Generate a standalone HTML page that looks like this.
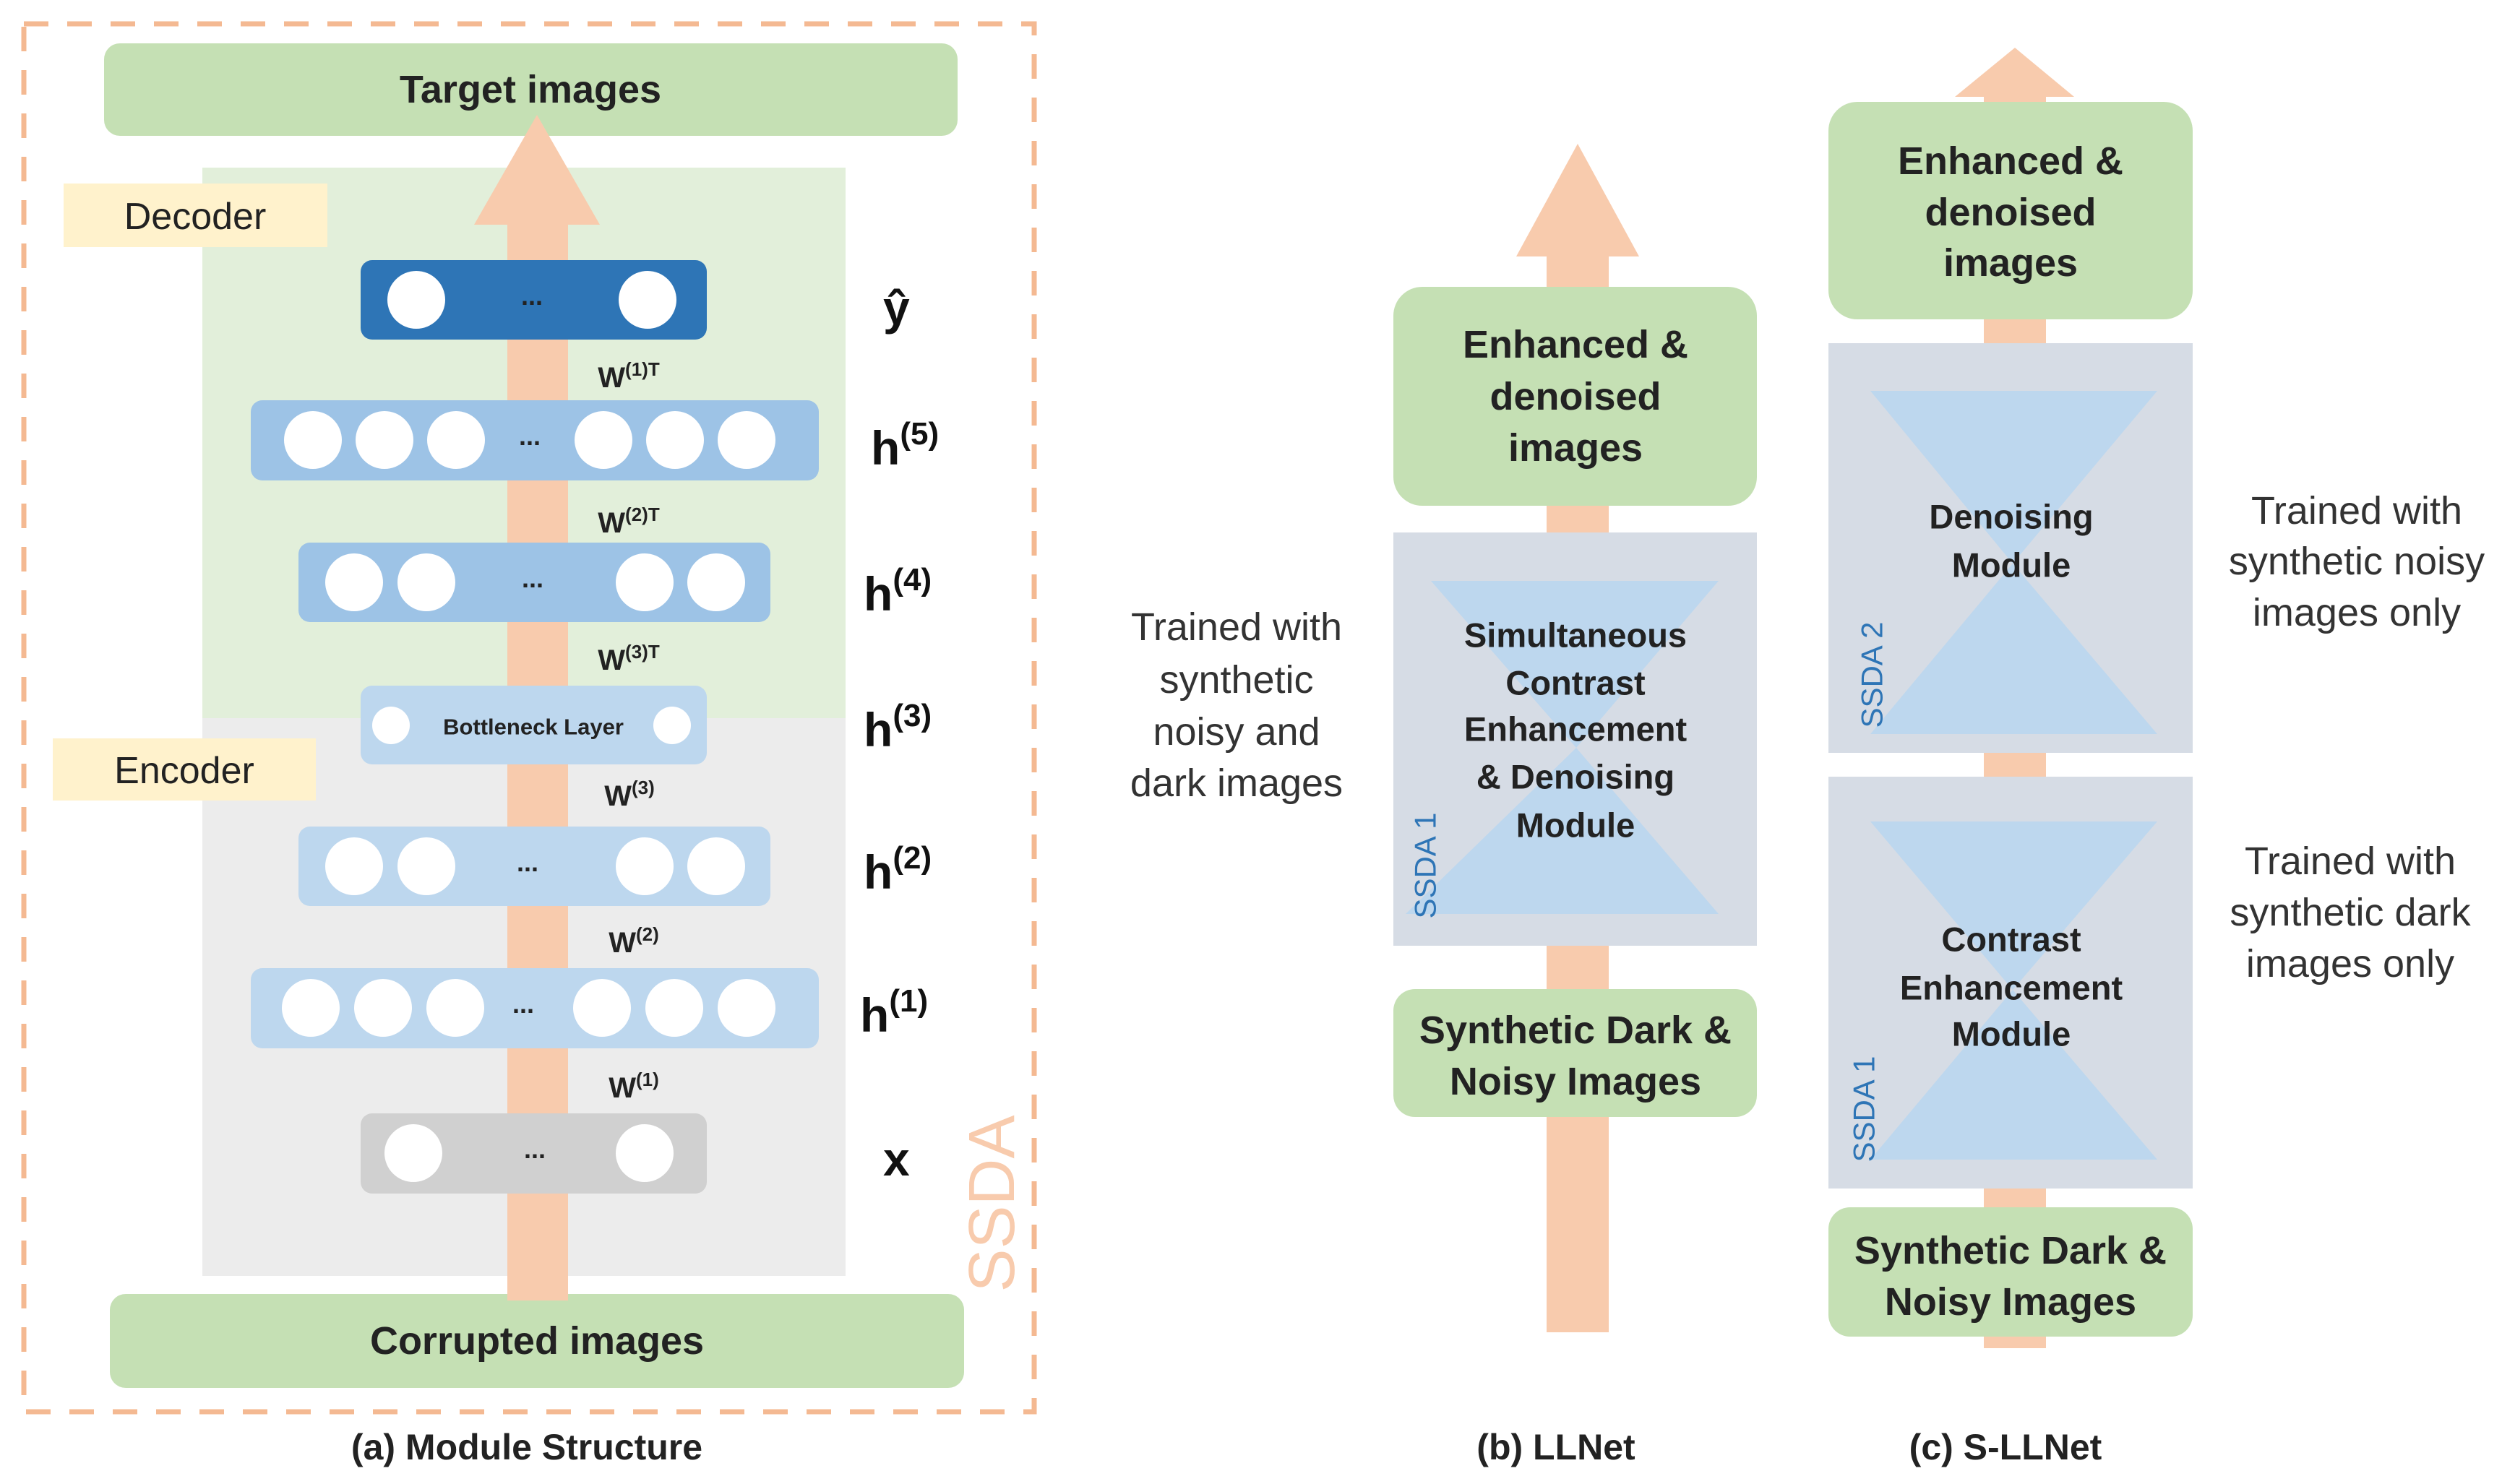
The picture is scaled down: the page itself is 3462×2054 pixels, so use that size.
<!DOCTYPE html>
<html><head><meta charset="utf-8"><style>
html,body{margin:0;padding:0;background:#fff;}
svg{display:block;}
text{font-family:"Liberation Sans",sans-serif;}
</style></head><body>
<svg width="3462" height="2054" viewBox="0 0 3462 2054" xmlns="http://www.w3.org/2000/svg">
<rect width="3462" height="2054" fill="#fff"/>
<rect x="33" y="33" width="1398" height="1921" fill="none" stroke="#f4b992" stroke-width="7" stroke-dasharray="34,26"/>
<rect x="280" y="232" width="890" height="762" fill="#e2efda"/>
<rect x="280" y="994" width="890" height="772" fill="#ececec"/>
<rect x="144" y="60" width="1181" height="128" rx="22" fill="#c5e0b4"/>
<rect x="152" y="1791" width="1182" height="130" rx="22" fill="#c5e0b4"/>
<rect x="88" y="254" width="365" height="88" fill="#fff2cc"/>
<rect x="73" y="1022" width="364" height="86" fill="#fff2cc"/>
<text x="270" y="300" font-size="52" text-anchor="middle" dominant-baseline="central" fill="#222">Decoder</text>
<text x="255" y="1067" font-size="52" text-anchor="middle" dominant-baseline="central" fill="#222">Encoder</text>
<rect x="702" y="300" width="84" height="1500" fill="#f8cbad"/>
<polygon points="656,311 830,311 743,159" fill="#f8cbad"/>
<text x="734" y="124" font-size="54" font-weight="bold" text-anchor="middle" dominant-baseline="central" fill="#222">Target images</text>
<text x="743" y="1856" font-size="54" font-weight="bold" text-anchor="middle" dominant-baseline="central" fill="#222">Corrupted images</text>
<rect x="499" y="360" width="479" height="110" rx="16" fill="#2e75b6"/>
<circle cx="576" cy="415" r="40" fill="#fff"/><circle cx="896" cy="415" r="40" fill="#fff"/>
<text x="736" y="422" font-size="36" font-weight="bold" text-anchor="middle" fill="#222">...</text>
<rect x="347" y="554" width="786" height="111" rx="16" fill="#9dc3e6"/>
<g fill="#fff"><circle cx="433" cy="609" r="40"/><circle cx="532" cy="609" r="40"/><circle cx="631" cy="609" r="40"/><circle cx="835" cy="609" r="40"/><circle cx="934" cy="609" r="40"/><circle cx="1033" cy="609" r="40"/></g>
<text x="733" y="616" font-size="36" font-weight="bold" text-anchor="middle" fill="#222">...</text>
<rect x="413" y="751" width="653" height="110" rx="16" fill="#9dc3e6"/>
<g fill="#fff"><circle cx="490" cy="806" r="40"/><circle cx="590" cy="806" r="40"/><circle cx="892" cy="806" r="40"/><circle cx="991" cy="806" r="40"/></g>
<text x="737" y="813" font-size="36" font-weight="bold" text-anchor="middle" fill="#222">...</text>
<rect x="499" y="949" width="479" height="109" rx="16" fill="#bdd7ee"/>
<circle cx="541" cy="1004" r="26" fill="#fff"/><circle cx="930" cy="1004" r="26" fill="#fff"/>
<text x="738" y="1006" font-size="31" font-weight="bold" text-anchor="middle" dominant-baseline="central" fill="#222">Bottleneck Layer</text>
<rect x="413" y="1144" width="653" height="110" rx="16" fill="#bdd7ee"/>
<g fill="#fff"><circle cx="490" cy="1199" r="40"/><circle cx="590" cy="1199" r="40"/><circle cx="892" cy="1199" r="40"/><circle cx="991" cy="1199" r="40"/></g>
<text x="730" y="1206" font-size="36" font-weight="bold" text-anchor="middle" fill="#222">...</text>
<rect x="347" y="1340" width="786" height="111" rx="16" fill="#bdd7ee"/>
<g fill="#fff"><circle cx="430" cy="1395" r="40"/><circle cx="530" cy="1395" r="40"/><circle cx="630" cy="1395" r="40"/><circle cx="833" cy="1395" r="40"/><circle cx="933" cy="1395" r="40"/><circle cx="1033" cy="1395" r="40"/></g>
<text x="724" y="1402" font-size="36" font-weight="bold" text-anchor="middle" fill="#222">...</text>
<rect x="499" y="1541" width="479" height="111" rx="16" fill="#d0d0d0"/>
<circle cx="572" cy="1596" r="40" fill="#fff"/><circle cx="892" cy="1596" r="40" fill="#fff"/>
<text x="740" y="1603" font-size="36" font-weight="bold" text-anchor="middle" fill="#222">...</text>
<g font-size="40" font-weight="bold" fill="#222" text-anchor="middle" dominant-baseline="central">
<text x="870" y="523">W<tspan font-size="26" dy="-12">(1)T</tspan></text>
<text x="870" y="724">W<tspan font-size="26" dy="-12">(2)T</tspan></text>
<text x="870" y="914">W<tspan font-size="26" dy="-12">(3)T</tspan></text>
<text x="871" y="1102">W<tspan font-size="26" dy="-12">(3)</tspan></text>
<text x="877" y="1305">W<tspan font-size="26" dy="-12">(2)</tspan></text>
<text x="877" y="1506">W<tspan font-size="26" dy="-12">(1)</tspan></text>
</g>
<g font-size="66" font-weight="bold" fill="#111" dominant-baseline="central">
<text x="1222" y="426">ŷ</text>
<text x="1205" y="620">h<tspan font-size="44" dy="-20">(5)</tspan></text>
<text x="1195" y="822">h<tspan font-size="44" dy="-20">(4)</tspan></text>
<text x="1195" y="1010">h<tspan font-size="44" dy="-20">(3)</tspan></text>
<text x="1195" y="1207">h<tspan font-size="44" dy="-20">(2)</tspan></text>
<text x="1190" y="1405">h<tspan font-size="44" dy="-20">(1)</tspan></text>
<text x="1222" y="1604">x</text>
</g>
<text transform="translate(1373,1666) rotate(-90)" font-size="90" text-anchor="middle" dominant-baseline="central" fill="#f8cbad">SSDA</text>
<text x="729" y="2003" font-size="50" font-weight="bold" text-anchor="middle" dominant-baseline="central" fill="#222">(a) Module Structure</text>

<rect x="2140" y="330" width="86" height="1514" fill="#f8cbad"/>
<polygon points="2098,355 2268,355 2183,199" fill="#f8cbad"/>
<rect x="1928" y="397" width="503" height="303" rx="40" fill="#c5e0b4"/>
<g font-size="54" font-weight="bold" fill="#222" text-anchor="middle" dominant-baseline="central">
<text x="2180" y="477">Enhanced &amp;</text><text x="2180" y="549">denoised</text><text x="2180" y="620">images</text></g>
<rect x="1928" y="737" width="503" height="572" fill="#d6dce5"/>
<polygon points="1980,804 2378,804 2181,1035 2378,1265 1945,1265 2181,1035" fill="#bdd7ee"/>
<g font-size="47" font-weight="bold" fill="#222" text-anchor="middle" dominant-baseline="central">
<text x="2180" y="879">Simultaneous</text><text x="2180" y="945">Contrast</text><text x="2180" y="1009">Enhancement</text><text x="2180" y="1075">&amp; Denoising</text><text x="2180" y="1142">Module</text></g>
<text transform="translate(1972,1198) rotate(-90)" font-size="42" text-anchor="middle" dominant-baseline="central" fill="#2e75b6">SSDA 1</text>
<rect x="1928" y="1369" width="503" height="177" rx="30" fill="#c5e0b4"/>
<g font-size="54" font-weight="bold" fill="#222" text-anchor="middle" dominant-baseline="central">
<text x="2180" y="1426">Synthetic Dark &amp;</text><text x="2180" y="1497">Noisy Images</text></g>
<g font-size="54" fill="#333" text-anchor="middle" dominant-baseline="central">
<text x="1711" y="868">Trained with</text><text x="1711" y="941">synthetic</text><text x="1711" y="1013">noisy and</text><text x="1711" y="1084">dark images</text></g>
<text x="2153" y="2003" font-size="50" font-weight="bold" text-anchor="middle" dominant-baseline="central" fill="#222">(b) LLNet</text>

<rect x="2745" y="120" width="86" height="1746" fill="#f8cbad"/>
<polygon points="2705,134 2870,134 2788,66" fill="#f8cbad"/>
<rect x="2530" y="141" width="504" height="301" rx="40" fill="#c5e0b4"/>
<g font-size="54" font-weight="bold" fill="#222" text-anchor="middle" dominant-baseline="central">
<text x="2782" y="223">Enhanced &amp;</text><text x="2782" y="294">denoised</text><text x="2782" y="364">images</text></g>
<rect x="2530" y="475" width="504" height="567" fill="#d6dce5"/>
<polygon points="2588,541 2985,541 2785,780 2985,1016 2588,1016 2785,780" fill="#bdd7ee"/>
<g font-size="47" font-weight="bold" fill="#222" text-anchor="middle" dominant-baseline="central">
<text x="2783" y="715">Denoising</text><text x="2783" y="782">Module</text></g>
<text transform="translate(2590,934) rotate(-90)" font-size="42" text-anchor="middle" dominant-baseline="central" fill="#2e75b6">SSDA 2</text>
<rect x="2530" y="1075" width="504" height="570" fill="#d6dce5"/>
<polygon points="2588,1137 2985,1137 2785,1370 2985,1605 2588,1605 2785,1370" fill="#bdd7ee"/>
<g font-size="47" font-weight="bold" fill="#222" text-anchor="middle" dominant-baseline="central">
<text x="2783" y="1300">Contrast</text><text x="2783" y="1367">Enhancement</text><text x="2783" y="1431">Module</text></g>
<text transform="translate(2579,1535) rotate(-90)" font-size="42" text-anchor="middle" dominant-baseline="central" fill="#2e75b6">SSDA 1</text>
<rect x="2530" y="1671" width="504" height="179" rx="30" fill="#c5e0b4"/>
<g font-size="54" font-weight="bold" fill="#222" text-anchor="middle" dominant-baseline="central">
<text x="2782" y="1731">Synthetic Dark &amp;</text><text x="2782" y="1802">Noisy Images</text></g>
<g font-size="54" fill="#333" text-anchor="middle" dominant-baseline="central">
<text x="3261" y="707">Trained with</text><text x="3261" y="777">synthetic noisy</text><text x="3261" y="848">images only</text>
<text x="3252" y="1192">Trained with</text><text x="3252" y="1263">synthetic dark</text><text x="3252" y="1334">images only</text></g>
<text x="2775" y="2003" font-size="50" font-weight="bold" text-anchor="middle" dominant-baseline="central" fill="#222">(c) S-LLNet</text>
</svg>
</body></html>
